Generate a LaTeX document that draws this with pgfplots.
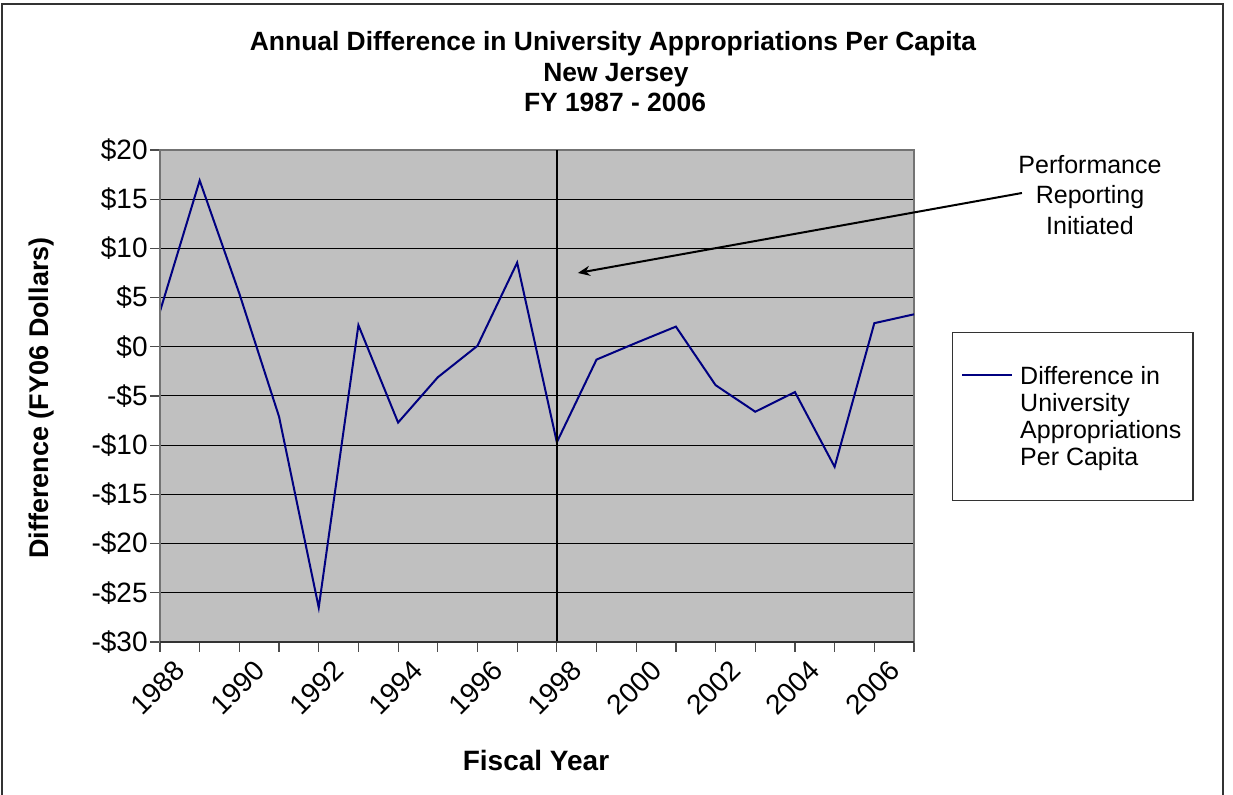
\documentclass[border=0pt]{standalone}
\usepackage{pgfplots}
\pgfplotsset{compat=1.18}
\usepackage{fontspec}
\setmainfont{Liberation Sans}
\usetikzlibrary{arrows.meta}
\definecolor{plotgray}{HTML}{C0C0C0}
\definecolor{navyline}{HTML}{000080}
\begin{document}
\begin{tikzpicture}
\useasboundingbox (0pt,0pt) rectangle (616.5pt,397.5pt);
% outer frame (three sides visible)
\draw[line width=0.6pt,black!80] (1pt,-2pt) -- (1pt,395.5pt) -- (611.5pt,395.5pt) -- (611.5pt,-2pt);
% title
\node[anchor=base, font=\bfseries\fontsize{13.2}{15}\selectfont] at (306.5pt,372.2pt) {Annual Difference in University Appropriations Per Capita};
\node[anchor=base, font=\bfseries\fontsize{13.2}{15}\selectfont] at (308pt,356.5pt) {New Jersey};
\node[anchor=base, font=\bfseries\fontsize{13.2}{15}\selectfont] at (307.5pt,341.5pt) {FY 1987 - 2006};
\begin{axis}[
  at={(80pt,76.5pt)}, anchor=south west,
  scale only axis, width=377pt, height=246pt,
  xmin=1988, xmax=2007, ymin=-30, ymax=20,
  clip=false,
  axis background/.style={fill=plotgray},
  axis line style={draw=black!55, line width=0.6pt},
  xtick={1988,1990,...,2006},
  xticklabels={1988,1990,1992,1994,1996,1998,2000,2002,2004,2006},
  minor xtick={1989,1991,...,2007},
  ytick={-30,-25,...,20},
  yticklabels={-\$30,-\$25,-\$20,-\$15,-\$10,-\$5,\$0,\$5,\$10,\$15,\$20},
  tick align=outside, tick pos=left,
  major tick length=5pt, minor tick length=5pt,
  tick style={black!70, line width=0.6pt},
  ymajorgrids,
  grid style={black, line width=0.5pt},
  yticklabel style={font=\fontsize{14}{16}\selectfont, inner sep=1pt},
  xticklabel style={font=\fontsize{14}{16}\selectfont, xshift=10.5pt, yshift=-6.5pt, rotate=45, anchor=east, inner sep=0.5pt},
  legend style={at={(axis description cs:1.0504,0.630)}, anchor=north west,
    draw=black!80, fill=white, line width=0.6pt,
    font=\fontsize{12.5}{13.5}\selectfont,
    cells={align=left, anchor=north west},
    inner xsep=3.8pt, inner ysep=14pt},
  legend image code/.code={\path (0pt,0pt) (27pt,0pt); \draw[#1] (0.5pt,-6.5pt) -- (25.5pt,-6.5pt);},
]
\addplot[navyline, line width=1pt] coordinates {
(1988,3.6) (1989,16.9) (1990,5.4) (1991,-7.1) (1992,-26.5)
(1993,2.2) (1994,-7.7) (1995,-3.1) (1996,0.1) (1997,8.55)
(1998,-9.7) (1999,-1.3) (2000,0.4) (2001,2.05) (2002,-3.9)
(2003,-6.6) (2004,-4.6) (2005,-12.2) (2006,2.4) (2007,3.3)};
\addlegendentry{Difference in\\University\\Appropriations\\Per Capita}
\draw[black, line width=1pt] (axis cs:1998,-30) -- (axis cs:1998,20);
\draw[black, line width=1pt, -{Stealth[length=6pt,width=5pt]}] (axis cs:2009.72,15.63) -- (axis cs:1998.53,7.5);
\draw[black!55, line width=0.6pt] (axis cs:1988,-30) -- (axis cs:1988,20);
\draw[black!80, line width=0.8pt] (axis cs:1988,-30) -- (axis cs:2007,-30);
\end{axis}
% annotation text
\node[align=center, font=\fontsize{12.5}{15.2}\selectfont] at (545pt,300pt) {Performance\\Reporting\\Initiated};
% axis labels
\node[font=\bfseries\fontsize{14}{16}\selectfont] at (268pt,17pt) {Fiscal Year};
\node[rotate=90, font=\bfseries\fontsize{13.5}{16}\selectfont] at (21pt,198.5pt) {Difference (FY06 Dollars)};
\end{tikzpicture}
\end{document}
